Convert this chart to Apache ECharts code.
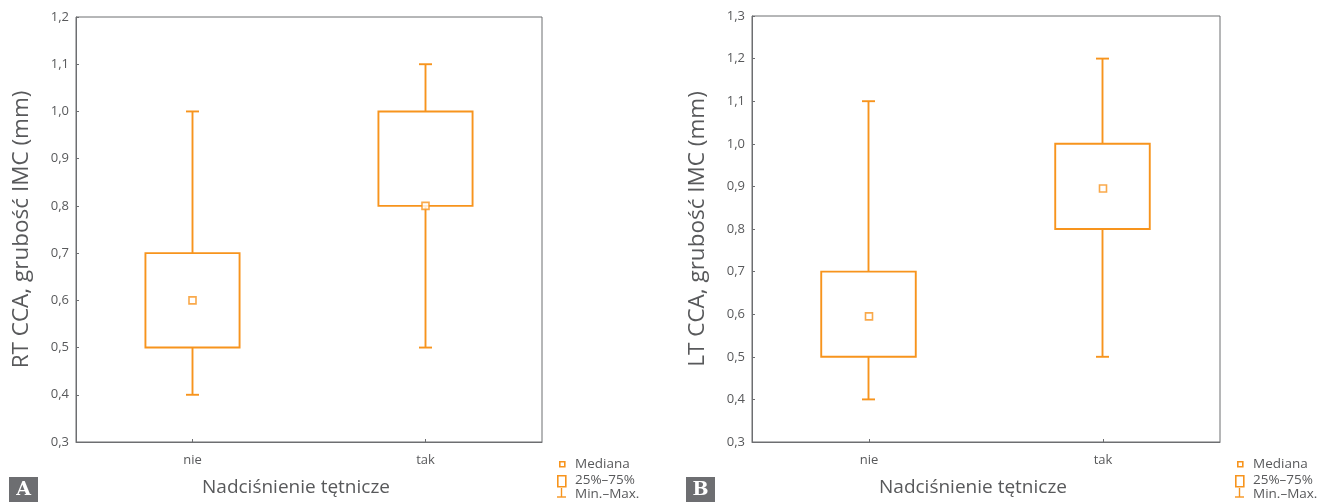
<!DOCTYPE html>
<html>
<head>
<meta charset="utf-8">
<script src="https://cdn.jsdelivr.net/npm/echarts@6/dist/echarts.min.js"></script>
<style>
html,body{margin:0;padding:0;background:#fff;}
#c{width:1318px;height:502px;}
</style>
</head>
<body>
<div id="c"></div>
<script>
// ---- data ----
const categories = ['nie', 'tak'];
// Panel A: RT CCA  [min, q1, median, q3, max]
const rtMin = [0.4, 0.5];
const rtQ1 = [0.5, 0.8];
const rtMedian = [0.6, 0.8];
const rtQ3 = [0.7, 1.0];
const rtMax = [1.0, 1.1];
// Panel B: LT CCA
const ltMin = [0.4, 0.5];
const ltQ1 = [0.5, 0.8];
const ltMedian = [0.595, 0.895];
const ltQ3 = [0.7, 1.0];
const ltMax = [1.1, 1.2];
const yTicksA = {min: 0.3, max: 1.2, interval: 0.1};
const yTicksB = {min: 0.3, max: 1.3, interval: 0.1};
const legendLabels = ['Mediana', '25%–75%', 'Min.–Max.'];
const xTitle = 'Nadciśnienie tętnicze';
const yTitleA = 'RT CCA, grubość IMC (mm)';
const yTitleB = 'LT CCA, grubość IMC (mm)';
const panelLetters = ['A', 'B'];

// ---- styling ----
const ORANGE = '#F7941D';
const GRAY = '#58595B';
const FRAME = '#6d6e71';
const FONT = '"Open Sans", "DejaVu Sans", sans-serif';

function boxData(mins, q1s, q3s, maxs) {
  return categories.map((c, i) => [i, mins[i], q1s[i], q3s[i], maxs[i]]);
}

function renderBox(params, api) {
  const xi = api.value(0);
  const pMin = api.coord([xi, api.value(1)]);
  const pQ1 = api.coord([xi, api.value(2)]);
  const pQ3 = api.coord([xi, api.value(3)]);
  const pMax = api.coord([xi, api.value(4)]);
  const band = api.size([1, 0])[0];
  const bw = band * 0.404;
  const cap = 13;
  const cx = Math.round(pMin[0]) - 0.5;
  const st = {stroke: ORANGE, lineWidth: 1.9, fill: null};
  return {
    type: 'group',
    children: [
      {type: 'rect', shape: {x: cx - bw / 2, y: pQ3[1], width: bw, height: pQ1[1] - pQ3[1]}, style: {stroke: ORANGE, lineWidth: 1.9, fill: 'rgba(0,0,0,0)'}},
      {type: 'line', shape: {x1: cx, y1: pQ3[1], x2: cx, y2: pMax[1]}, style: st},
      {type: 'line', shape: {x1: cx, y1: pQ1[1], x2: cx, y2: pMin[1]}, style: st},
      {type: 'line', shape: {x1: cx - cap / 2, y1: pMax[1], x2: cx + cap / 2, y2: pMax[1]}, style: st},
      {type: 'line', shape: {x1: cx - cap / 2, y1: pMin[1], x2: cx + cap / 2, y2: pMin[1]}, style: st}
    ]
  };
}

function xAxisCfg(gi) {
  return {
    gridIndex: gi, type: 'category', data: categories,
    axisLine: {show: true, lineStyle: {color: FRAME, width: 1}},
    axisTick: {show: true, inside: true, length: 3, alignWithLabel: true, lineStyle: {color: FRAME}},
    axisLabel: {color: GRAY, fontSize: 13, fontFamily: FONT, margin: 12},
    splitLine: {show: false},
    name: xTitle, nameLocation: 'middle', nameGap: 36,
    nameTextStyle: {color: GRAY, fontSize: 19, fontFamily: FONT, padding: [0, 26, 0, 0]}
  };
}
function yAxisCfg(gi, t, title) {
  return {
    gridIndex: gi, type: 'value', min: t.min, max: t.max, interval: t.interval,
    axisLine: {show: true, lineStyle: {color: FRAME, width: 1}},
    axisTick: {show: true, inside: true, length: 3, lineStyle: {color: FRAME}},
    axisLabel: {color: GRAY, fontSize: 13, fontFamily: FONT, margin: 7,
      formatter: v => v.toFixed(1).replace('.', ',')},
    splitLine: {show: false},
    name: title, nameLocation: 'middle', nameGap: 43, nameRotate: 90,
    nameTextStyle: {color: GRAY, fontSize: 22.5, fontFamily: FONT}
  };
}

function legendGraphics(x0) {
  const g = [];
  g.push({type: 'rect', left: x0 + 2, top: 461, shape: {width: 5, height: 5}, style: {stroke: ORANGE, lineWidth: 1.6, fill: '#fff'}});
  g.push({type: 'rect', left: x0, top: 475, shape: {width: 8, height: 11}, style: {stroke: ORANGE, lineWidth: 1.6, fill: '#fff'}});
  g.push({type: 'line', shape: {x1: x0 + 4.5, y1: 488, x2: x0 + 4.5, y2: 497}, style: {stroke: ORANGE, lineWidth: 1.4}});
  g.push({type: 'line', shape: {x1: x0, y1: 497, x2: x0 + 9, y2: 497}, style: {stroke: ORANGE, lineWidth: 1.4}});
  const ys = [464, 480, 494];
  legendLabels.forEach((t, i) => {
    g.push({type: 'text', x: x0 + 18, y: ys[i], style: {text: t, fill: GRAY, fontSize: 13.5, fontFamily: FONT, verticalAlign: 'middle', align: 'left'}});
  });
  return g;
}
function letterGraphics(x0, letter) {
  return [
    {type: 'rect', shape: {x: x0, y: 477, width: 29, height: 25}, style: {fill: '#6d6e71'}},
    {type: 'text', x: x0 + 14.5, y: 490, style: {text: letter, fill: '#fff', fontSize: 19, fontWeight: 'bold', fontFamily: '"DejaVu Serif", "Liberation Serif", serif', align: 'center', verticalAlign: 'middle'}}
  ];
}

const chart = echarts.init(document.getElementById('c'), null, {renderer: 'canvas'});
chart.setOption({
  backgroundColor: '#fff',
  animation: false,
  grid: [
    {left: 76, top: 17, width: 466, height: 425, show: true, borderColor: FRAME, borderWidth: 1, backgroundColor: 'transparent'},
    {left: 752, top: 16, width: 468, height: 426, show: true, borderColor: FRAME, borderWidth: 1, backgroundColor: 'transparent'}
  ],
  xAxis: [xAxisCfg(0), xAxisCfg(1)],
  yAxis: [yAxisCfg(0, yTicksA, yTitleA), yAxisCfg(1, yTicksB, yTitleB)],
  series: [
    {type: 'custom', name: '25%–75%', xAxisIndex: 0, yAxisIndex: 0, renderItem: renderBox,
      encode: {x: 0, y: [1, 2, 3, 4]}, data: boxData(rtMin, rtQ1, rtQ3, rtMax)},
    {type: 'custom', name: '25%–75%', xAxisIndex: 1, yAxisIndex: 1, renderItem: renderBox,
      encode: {x: 0, y: [1, 2, 3, 4]}, data: boxData(ltMin, ltQ1, ltQ3, ltMax)},
    {type: 'scatter', name: 'Mediana', xAxisIndex: 0, yAxisIndex: 0, symbol: 'rect', symbolSize: 7,
      itemStyle: {color: '#fff', borderColor: ORANGE, borderWidth: 1.6}, z: 5,
      data: categories.map((c, i) => [i, rtMedian[i]])},
    {type: 'scatter', name: 'Mediana', xAxisIndex: 1, yAxisIndex: 1, symbol: 'rect', symbolSize: 7,
      itemStyle: {color: '#fff', borderColor: ORANGE, borderWidth: 1.6}, z: 5,
      data: categories.map((c, i) => [i, ltMedian[i]])}
  ],
  graphic: [].concat(legendGraphics(557), legendGraphics(1235), letterGraphics(9, panelLetters[0]), letterGraphics(686, panelLetters[1]))
});
</script>
</body>
</html>
